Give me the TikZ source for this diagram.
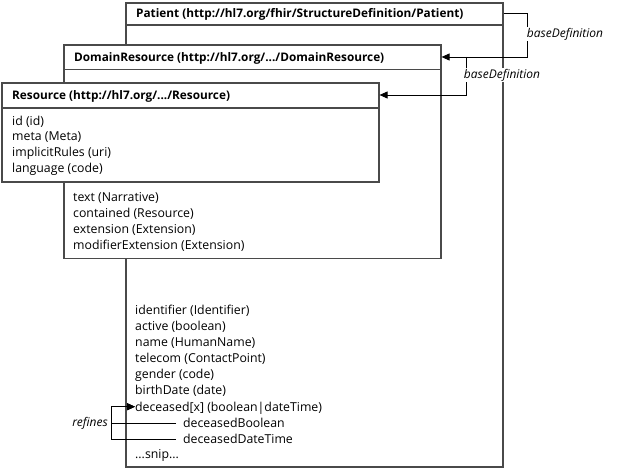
\documentclass[tikz,border=0pt]{standalone}
\usepackage{fontspec}
\setmainfont{Open Sans}
\usetikzlibrary{arrows.meta}
\definecolor{boxgray}{HTML}{4A4A4A}
\begin{document}
\begin{tikzpicture}[x=1pt,y=-1pt,
  box/.style={draw=boxgray, line width=1.6pt, fill=white, anchor=north west,
    inner sep=0pt, minimum width=377pt},
  rule/.style={draw=boxgray, line width=1.6pt},
  hdr/.style={anchor=west, inner sep=0pt, text height=12pt, text depth=3pt,
    font=\bfseries\fontsize{11.8}{14}\selectfont},
  fld/.style={anchor=west, inner sep=0pt, text height=12pt, text depth=3pt,
    font=\fontsize{12.3}{15}\selectfont},
  lbl/.style={fill=white, inner sep=1pt, font=\itshape\fontsize{12}{15}\selectfont},
  link/.style={line width=0.9pt, -{Triangle[length=8pt,width=7pt]}},
]
\useasboundingbox (0,0) rectangle (617,470);

% Patient
\node[box, minimum height=464pt] (P) at (125,2) {};
\draw[rule] (125,25) -- (502,25);
\node[hdr] (Ph) at (136,13.5) {Patient (http://hl7.org/fhir/StructureDefinition/Patient)};

% DomainResource
\node[box, minimum height=213pt] (D) at (63,44.5) {};
\draw[rule] (63,69.5) -- (440,69.5);
\node[hdr] (Dh) at (74,57) {DomainResource (http://hl7.org/.../DomainResource)};

% Resource
\node[box, minimum height=99pt] (R) at (1,82) {};
\draw[rule] (1,108) -- (378,108);
\node[hdr] (Rh) at (12,95) {Resource (http://hl7.org/.../Resource)};

% Resource elements
\node[fld] (r1) at (12,120.7) {id (id)};
\node[fld] (r2) at (12,136.5) {meta (Meta)};
\node[fld] (r3) at (12,152.5) {implicitRules (uri)};
\node[fld] (r4) at (12,168.5) {language (code)};

% DomainResource elements
\node[fld] (d1) at (73,197.3) {text (Narrative)};
\node[fld] (d2) at (73,213.3) {contained (Resource)};
\node[fld] (d3) at (73,229.2) {extension (Extension)};
\node[fld] (d4) at (73,245) {modifierExtension (Extension)};

% Patient elements
\node[fld] (p1) at (135,310) {identifier (Identifier)};
\node[fld] (p2) at (135,326) {active (boolean)};
\node[fld] (p3) at (135,342) {name (HumanName)};
\node[fld] (p4) at (135,357.7) {telecom (ContactPoint)};
\node[fld] (p5) at (135,373.7) {gender (code)};
\node[fld] (p6) at (135,389.5) {birthDate (date)};
\node[fld] (dec) at (135,406.7) {deceased[x] (boolean|dateTime)};
\node[fld] (decB) at (183,423) {deceasedBoolean};
\node[fld] (decD) at (183,439) {deceasedDateTime};
\node[fld] (snip) at (135,454) {...snip...};

% baseDefinition links
\draw[link] (P.north east |- Ph) -- ++(24,0) |- (D.north east |- Dh);
\draw[link] ([xshift=25pt]D.north east |- Dh) |- (R.north east |- Rh);
\node[lbl] (bd1) at (565,34) {baseDefinition};
\node[lbl] (bd2) at (502,75) {baseDefinition};

% choice-type refinements
\draw[link] ([xshift=-7pt]decB.west) -| ([xshift=-24pt]dec.west) -- (dec.west);
\draw[link] ([xshift=-7pt]decD.west) -| ([xshift=-24pt]dec.west) -- (dec.west);
\node[anchor=east, inner sep=0pt, font=\itshape\fontsize{12}{15}\selectfont] (ref) at (108,423) {refines};

\end{tikzpicture}
\end{document}
